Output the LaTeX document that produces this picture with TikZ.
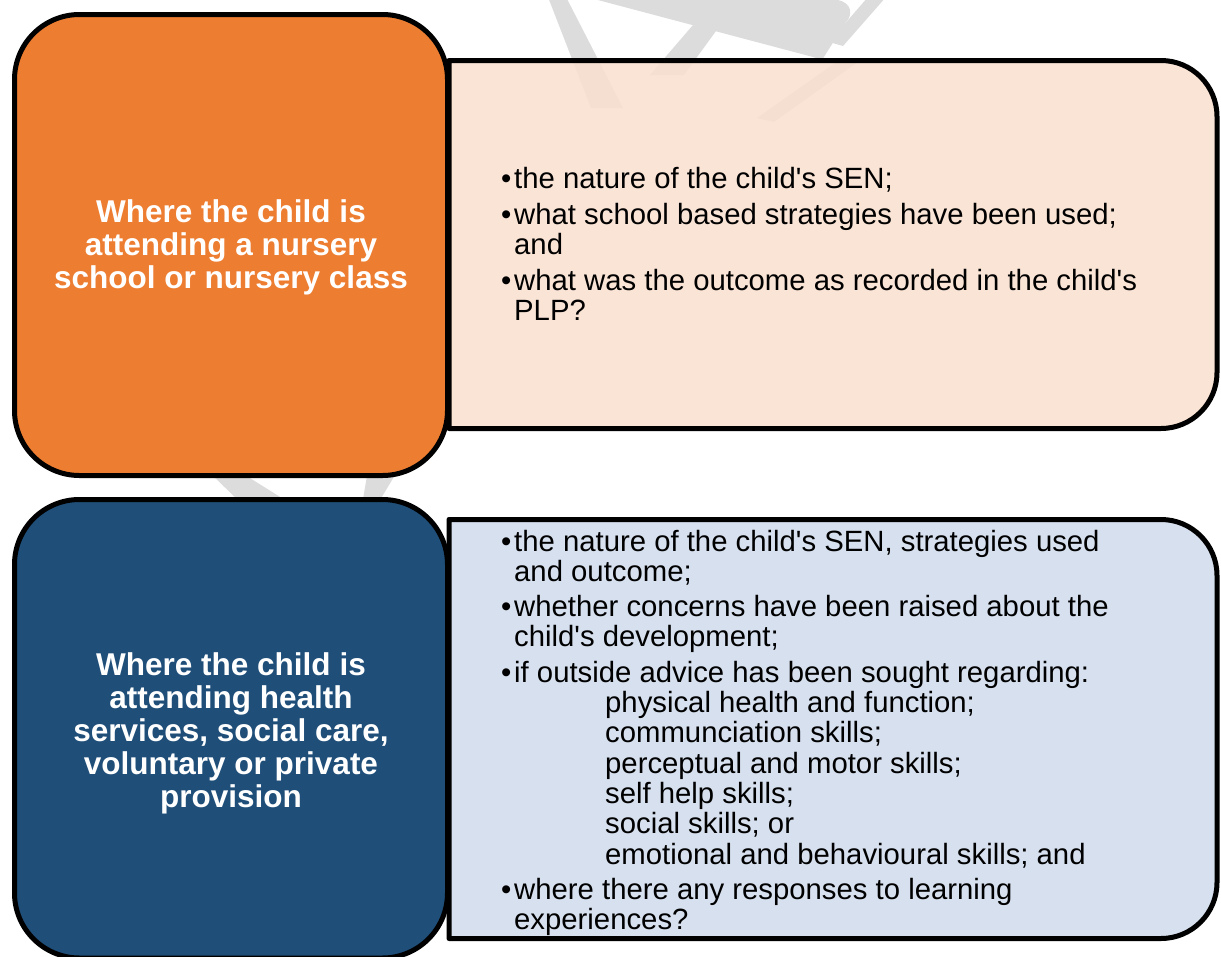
\documentclass[tikz,border=0pt]{standalone}
\usepackage{fontspec}
\setmainfont{Liberation Sans}

\definecolor{accentorange}{HTML}{ED7D31}
\definecolor{peachfill}{HTML}{FAE0CF}
\definecolor{navyfill}{HTML}{1F4E79}
\definecolor{paleblue}{HTML}{D6E0EE}
\definecolor{markgray}{HTML}{DCDCDC}

% bullet item with hanging indent
\newcommand{\bulitem}{\par\noindent\hangindent=13pt\hangafter=1\makebox[13pt][l]{•}}
\newcommand{\subline}{\newline\hspace*{91pt}}
\newcommand{\aq}{\textquotesingle}

\tikzset{
  frame/.style={draw=black, line width=5pt, line join=round},
  headtext/.style={text=white, align=center, inner sep=0pt,
    font=\fontsize{31.5}{33}\selectfont\bfseries},
  bodytext/.style={anchor=base west, inner sep=0pt, text=black},
  wmark/.style={fill=markgray, draw=none}
}

\begin{document}
\begin{tikzpicture}[x=1pt, y=-1pt]
\useasboundingbox (0,0) rectangle (1221,956);
\clip (0,0) rectangle (1221,956);
\fill[white] (0,0) rectangle (1221,956);

% background watermark strokes
\path[wmark] (548,-3) -- (566,-3) -- (623,108) -- (591,108) -- cycle;
\path[wmark] (579,-5) -- (838,-5) -- (838,0) .. controls (852,3) and (853,15) .. (846,22)
  -- (822,60) -- (813,57) -- cycle;
\path[wmark] (650,75) -- (684,75) -- (716,31) -- (693,25) -- cycle;
\path[wmark] (868,-3) -- (886,-3) -- (843,46) -- (829,42) -- cycle;
\path[wmark] (842,58) -- (858,62) -- (774,122) -- (757,118) -- cycle;
\path[wmark] (207,470) -- (237,470) -- (293,505) -- (243,505) -- cycle;
\path[wmark] (368,470) -- (398,470) -- (377,505) -- (362,505) -- cycle;

% right-hand panels (square on the left, rounded on the right)
\draw[frame, fill=peachfill, fill opacity=0.85]
  (449,60.5) -- (1161,60.5) arc[start angle=270, end angle=360, radius=56]
  -- (1217,372.5) arc[start angle=0, end angle=90, radius=56]
  -- (449,428.5) -- cycle;
\draw[frame, fill=paleblue]
  (449,519.5) -- (1161,519.5) arc[start angle=270, end angle=360, radius=56]
  -- (1217,882.5) arc[start angle=0, end angle=90, radius=56]
  -- (449,938.5) -- cycle;

% left-hand heading panels
\draw[frame, fill=accentorange, rounded corners=65pt] (14.5,14.5) rectangle (447.5,475.5);
\draw[frame, fill=navyfill, rounded corners=65pt] (14.5,499.5) rectangle (447.5,958);

% headings
\node[headtext] (nurseryhead) at (231,247)
  {Where the child is\\attending a nursery\\school or nursery class};
\node[headtext] (serviceshead) at (231,733)
  {Where the child is\\attending health\\services, social care,\\voluntary or private\\provision};

% bullet lists
\node[bodytext] (nurserylist) at (501,188) {\parbox[t]{700pt}{%
  \fontsize{29.3}{30}\selectfont\raggedright\setlength{\parskip}{6pt}%
  \bulitem the nature of the child\aq s SEN;\par
  \bulitem what school based strategies have been used;\newline and\par
  \bulitem what was the outcome as recorded in the child\aq s\newline PLP?}};

\node[bodytext] (serviceslist) at (501,551) {\parbox[t]{700pt}{%
  \fontsize{29.3}{30.3}\selectfont\raggedright\setlength{\parskip}{5pt}%
  \bulitem the nature of the child\aq s SEN, strategies used\newline and outcome;\par
  \bulitem whether concerns have been raised about the\newline child\aq s development;\par
  \bulitem if outside advice has been sought regarding:%
    \subline physical health and function;%
    \subline communciation skills;%
    \subline perceptual and motor skills;%
    \subline self help skills;%
    \subline social skills; or%
    \subline emotional and behavioural skills; and\par
  \bulitem where there any responses to learning\newline experiences?}};
\end{tikzpicture}
\end{document}
